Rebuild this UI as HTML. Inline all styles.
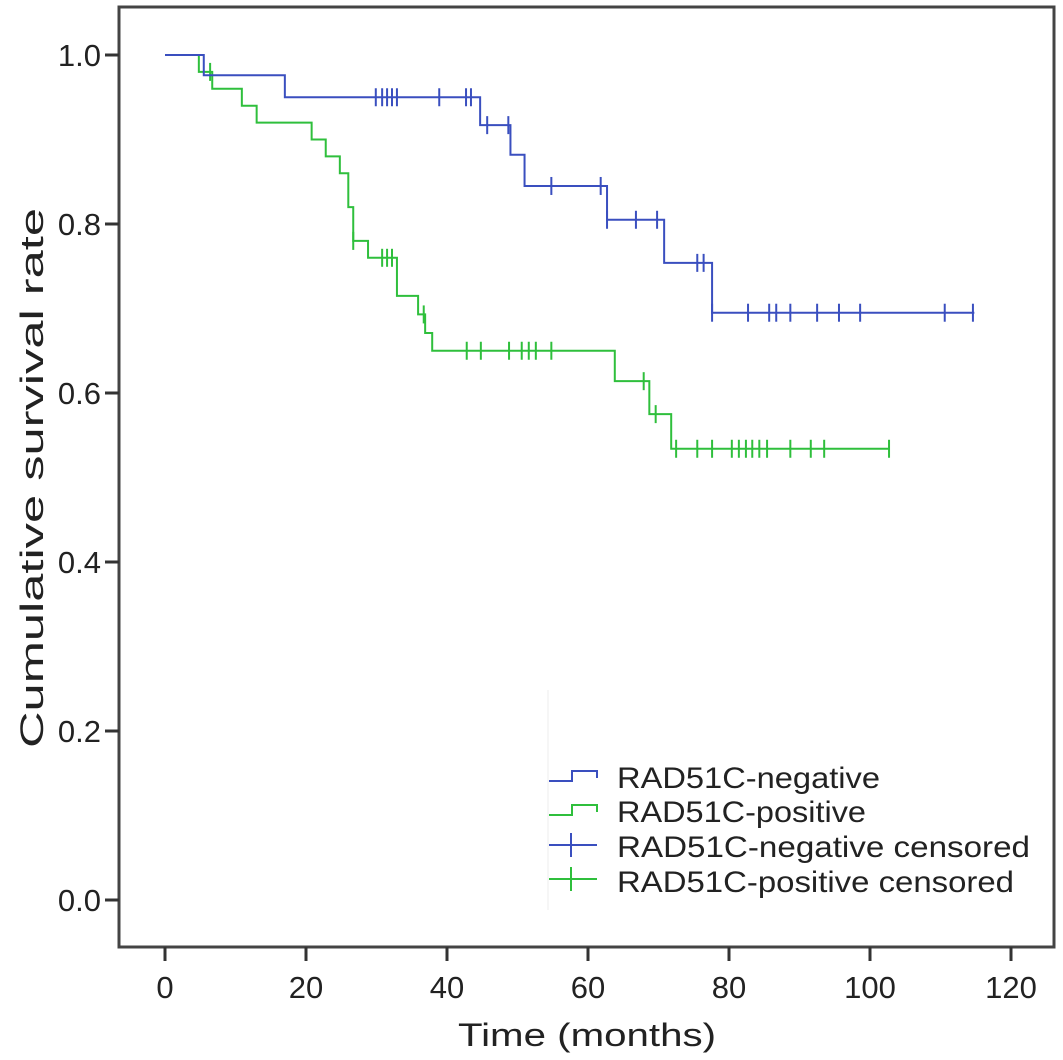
<!DOCTYPE html>
<html><head><meta charset="utf-8"><style>
html,body{margin:0;padding:0;background:#fff;}
svg{display:block;font-family:"Liberation Sans",Arial,sans-serif;}
</style></head><body>
<svg id="chart" width="1063" height="1060" viewBox="0 0 1063 1060" xmlns="http://www.w3.org/2000/svg">
<rect x="119" y="7" width="935" height="940" fill="none" stroke="#444" stroke-width="3"/>
<g id="axes"></g>
<g id="series"></g>
<text transform="translate(43,478) rotate(-90)" text-anchor="middle" font-size="32" textLength="540" lengthAdjust="spacingAndGlyphs" fill="#222">Cumulative survival rate</text>
<text x="587" y="1046" text-anchor="middle" font-size="32" textLength="258" lengthAdjust="spacingAndGlyphs" fill="#222">Time (months)</text>
<g>
<line x1="548" y1="690" x2="548" y2="910" stroke="#eee" stroke-width="1"/>
<g><path d="M549,781 H572 V771 H597 V778" fill="none" stroke="#3a4fbf" stroke-width="2"/><text x="617" y="788" font-size="30" textLength="263" lengthAdjust="spacingAndGlyphs" fill="#222">RAD51C-negative</text></g>
<g><path d="M549,815 H572 V805 H597 V812" fill="none" stroke="#2fbf3c" stroke-width="2"/><text x="617" y="822" font-size="30" textLength="249" lengthAdjust="spacingAndGlyphs" fill="#222">RAD51C-positive</text></g>
<g><line x1="549" y1="845" x2="597" y2="845" stroke="#3a4fbf" stroke-width="2"/><line x1="571" y1="833" x2="571" y2="857" stroke="#3a4fbf" stroke-width="2"/><text x="617" y="857" font-size="30" textLength="413" lengthAdjust="spacingAndGlyphs" fill="#222">RAD51C-negative censored</text></g>
<g><line x1="549" y1="879" x2="597" y2="879" stroke="#2fbf3c" stroke-width="2"/><line x1="571" y1="867" x2="571" y2="891" stroke="#2fbf3c" stroke-width="2"/><text x="617" y="892" font-size="30" textLength="397" lengthAdjust="spacingAndGlyphs" fill="#222">RAD51C-positive censored</text></g>
</g>
</svg>
<script>
const xTicks=[0,20,40,60,80,100,120];
const yTicks=[0,0.2,0.4,0.6,0.8,1.0];
const negTimes=[0,5.5,17,44.7,49,51,62.7,70.8,77.6,114.8];
const negSurv=[1,0.976,0.95,0.917,0.882,0.845,0.805,0.754,0.695,0.695];
const negCensT=[29.9,30.8,31.5,32.2,32.9,38.9,42.7,43.4,45.7,48.7,54.8,61.8,62.7,66.8,69.8,75.5,76.4,77.6,82.7,85.7,86.7,88.7,92.5,95.6,98.6,110.6,114.6];
const posTimes=[0,4.8,6.7,10.9,13,20.8,22.8,24.8,26,26.7,28.8,32.9,35.9,36.9,37.9,63.8,68.7,71.8,102.7];
const posSurv=[1,0.98,0.96,0.94,0.92,0.90,0.88,0.86,0.82,0.78,0.76,0.715,0.693,0.671,0.65,0.614,0.575,0.534,0.534];
const posCensT=[6.4,26.7,30.8,31.5,32.2,36.7,42.8,44.8,48.8,50.6,51.6,52.6,54.8,67.9,69.6,72.5,75.5,77.6,80.4,81.4,82.4,83.3,84.3,85.4,88.7,91.6,93.5,102.7];
const X=t=>165+t*7.05;
const Y=s=>900-s*845;
const NS="http://www.w3.org/2000/svg";
const axes=document.getElementById('axes'),series=document.getElementById('series');
function mk(tag,attrs,parent){const e=document.createElementNS(NS,tag);for(const k in attrs)e.setAttribute(k,attrs[k]);parent.appendChild(e);return e;}
xTicks.forEach(v=>{
 const l=mk('line',{x1:X(v),x2:X(v),y1:947,y2:961,stroke:'#333','stroke-width':3},axes);
 
 
 const t=mk('text',{x:X(v),y:998,'text-anchor':'middle','font-size':31,fill:'#222'},axes);
 t.textContent=v;
 
 
});
yTicks.forEach(v=>{
 const l=mk('line',{x1:105,x2:119,y1:Y(v),y2:Y(v),stroke:'#333','stroke-width':3},axes);
 
 
 const t=mk('text',{x:101,y:Y(v)+11,'text-anchor':'end','font-size':31,fill:'#222'},axes);
 t.textContent=v.toFixed(1);
 
 
});
function survAt(times,surv,t){let s=surv[0];for(let i=0;i<times.length;i++){if(times[i]<=t)s=surv[i];}return s;}
function draw(times,surv,cens,color,name){
 let d='M'+X(times[0])+','+Y(surv[0]);
 for(let i=1;i<times.length;i++){d+=' H'+X(times[i])+' V'+Y(surv[i]);}
 const p=mk('path',{d:d,fill:'none',stroke:color,'stroke-width':2},series);
 
 
 cens.forEach(t=>{
  const s=survAt(times,surv,t);
  const c=mk('line',{x1:X(t),x2:X(t),y1:Y(s)-9,y2:Y(s)+9,stroke:color,'stroke-width':2},series);
  
  
 });
}
draw(posTimes,posSurv,posCensT,'#2fbf3c','positive');
draw(negTimes,negSurv,negCensT,'#3a4fbf','negative');
</script>
</body></html>
